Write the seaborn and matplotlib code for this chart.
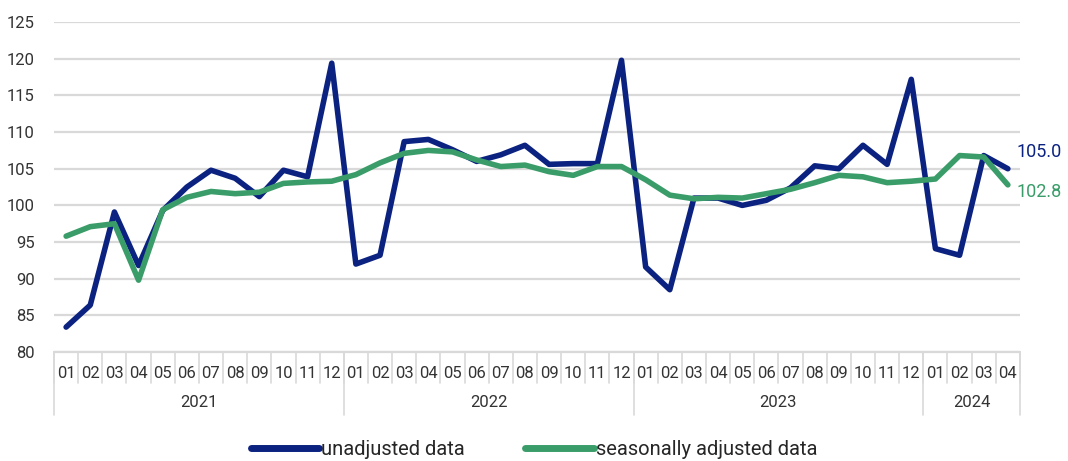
import matplotlib.pyplot as plt
import seaborn as sns
import pandas as pd
from matplotlib import transforms

years = ["2021", "2022", "2023", "2024"]
months_per_year = [12, 12, 12, 4]
month_labels = [f"{m:02d}" for n in months_per_year for m in range(1, n + 1)]

unadjusted = [83.4, 86.4, 99.1, 91.8, 99.3, 102.5, 104.8, 103.7, 101.2, 104.8, 103.9, 119.4,
              92.0, 93.2, 108.7, 109.0, 107.6, 106.0, 106.9, 108.2, 105.6, 105.7, 105.7, 119.8,
              91.6, 88.5, 101.0, 101.0, 100.0, 100.7, 102.4, 105.4, 105.0, 108.2, 105.6, 117.2,
              94.1, 93.2, 106.8, 105.0]
adjusted = [95.8, 97.1, 97.5, 89.8, 99.4, 101.1, 101.9, 101.6, 101.8, 103.0, 103.2, 103.3,
            104.2, 105.8, 107.1, 107.5, 107.3, 106.2, 105.3, 105.5, 104.6, 104.1, 105.3, 105.3,
            103.5, 101.4, 100.9, 101.1, 101.0, 101.6, 102.2, 103.1, 104.1, 103.9, 103.1, 103.3,
            103.6, 106.8, 106.6, 102.8]

navy = "#0b2280"
green = "#3a9d69"
grid_col = "#d9d9d9"

df = pd.DataFrame({
    "idx": list(range(len(unadjusted))) * 2,
    "value": unadjusted + adjusted,
    "series": ["unadjusted data"] * len(unadjusted) + ["seasonally adjusted data"] * len(adjusted),
})

sns.set_style("white")
plt.rcParams["font.family"] = ["Liberation Sans Narrow", "Roboto", "DejaVu Sans"]

fig, ax = plt.subplots(figsize=(10.68, 4.61), dpi=100)
fig.subplots_adjust(left=0.0506, right=0.955, top=0.952, bottom=0.2364)

sns.lineplot(data=df, x="idx", y="value", hue="series",
             palette={"unadjusted data": navy, "seasonally adjusted data": green},
             linewidth=4.0, ax=ax, legend=False)

n = len(unadjusted)
ax.set_xlim(-0.5, n - 0.5)
ax.set_ylim(80, 125)
ax.set_yticks(range(80, 126, 5))
ax.yaxis.grid(True, color=grid_col, linewidth=1.6)
ax.set_axisbelow(True)
for s in ax.spines.values():
    s.set_visible(False)
ax.axhline(80, color=grid_col, linewidth=1.6, clip_on=False)
ax.tick_params(axis="y", length=0, labelsize=12, colors="#333333", pad=14)
ax.set_xticks(range(n))
ax.set_xticklabels(month_labels, fontsize=12, color="#333333")
ax.tick_params(axis="x", length=0, pad=10)
ax.set_xlabel("")
ax.set_ylabel("")

# multi-level category axis
tr = transforms.blended_transform_factory(ax.transData, ax.transAxes)
for b in range(n + 1):
    ax.plot([b - 0.5, b - 0.5], [0, -0.095], transform=tr, color=grid_col,
            linewidth=1.2, clip_on=False)
start = 0
for yr, cnt in zip(years, months_per_year):
    ax.plot([start - 0.5, start - 0.5], [0, -0.19], transform=tr, color=grid_col,
            linewidth=1.2, clip_on=False)
    ax.text(start + cnt / 2 - 0.5, -0.152, yr, transform=tr, ha="center", va="center",
            fontsize=12, color="#333333")
    start += cnt
ax.plot([n - 0.5, n - 0.5], [0, -0.19], transform=tr, color=grid_col,
        linewidth=1.2, clip_on=False)

# end labels
ax.annotate(f"{unadjusted[-1]:.1f}", (n - 1, unadjusted[-1]), xytext=(6, 12),
            textcoords="offset points", color=navy, fontsize=13, va="center")
ax.annotate(f"{adjusted[-1]:.1f}", (n - 1, adjusted[-1]), xytext=(6, -5),
            textcoords="offset points", color=green, fontsize=13, va="center")

handles = [plt.Line2D([], [], color=navy, linewidth=5),
           plt.Line2D([], [], color=green, linewidth=5)]
fig.legend(handles, ["unadjusted data", "seasonally adjusted data"], loc="lower center",
           bbox_to_anchor=(0.5, -0.035), ncol=2, frameon=False, fontsize=14.5,
           handlelength=3.4, handletextpad=0.1, columnspacing=3)

fig.savefig("out.png", dpi=100)
